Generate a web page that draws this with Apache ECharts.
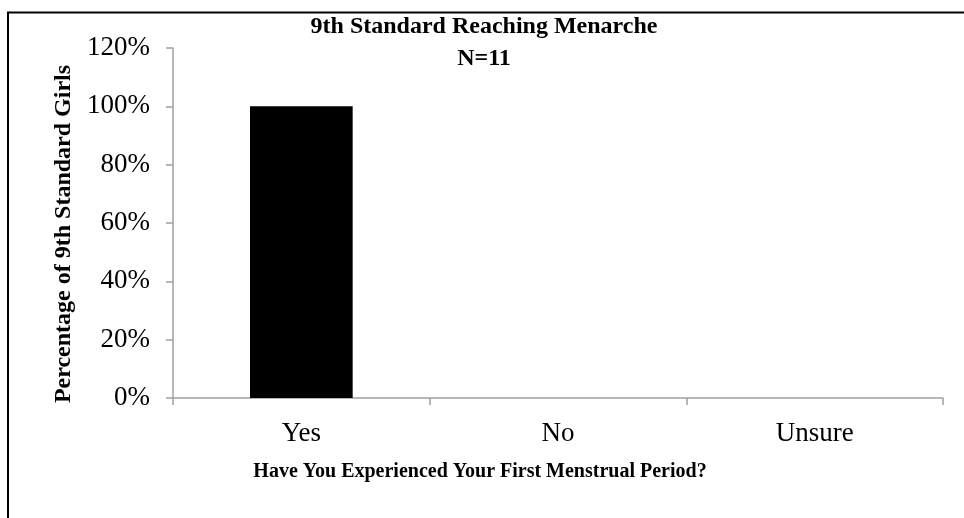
<!DOCTYPE html>
<html>
<head>
<meta charset="utf-8">
<script src="https://cdn.jsdelivr.net/npm/echarts@6/dist/echarts.min.js"></script>
<style>html,body{margin:0;padding:0;background:#fff;}#chart{width:964px;height:518px;}</style>
</head>
<body>
<div id="chart"></div>
<script>
const categories = ["Yes", "No", "Unsure"];
const percentValues = [100, 0, 0];
const yTicks = { min: 0, max: 120, interval: 20 };
const titleText = "9th Standard Reaching Menarche";
const subText = "N=11";
const xAxisName = "Have You Experienced Your First Menstrual Period?";
const yAxisName = "Percentage of 9th Standard Girls";

const serif = "'Liberation Serif', 'Times New Roman', serif";
const chart = echarts.init(document.getElementById('chart'));
chart.setOption({
  backgroundColor: '#fff',
  animation: false,
  title: {
    text: titleText + "\n" + subText,
    left: 479, top: 6, textAlign: 'center',
    textStyle: { fontFamily: serif, fontWeight: 'bold', fontSize: 24, color: '#000', lineHeight: 32 }
  },
  graphic: [{
    type: 'rect', z: 100,
    shape: { x: 8, y: 12.5, width: 1200, height: 1200 },
    style: { fill: 'none', stroke: '#000', lineWidth: 2 }
  }],
  grid: { left: 173, right: 21, top: 48, bottom: 120, containLabel: false },
  xAxis: {
    type: 'category', data: categories, boundaryGap: true,
    name: xAxisName, nameLocation: 'middle', nameGap: 64,
    nameTextStyle: { fontFamily: serif, fontWeight: 'bold', fontSize: 20, color: '#000', padding: [0, 156, 0, 0] },
    axisLine: { lineStyle: { color: '#a0a0a0', width: 1.5 } },
    axisTick: { show: true, alignWithLabel: false, length: 7, lineStyle: { color: '#a0a0a0', width: 1.5 } },
    axisLabel: { fontFamily: serif, fontSize: 27, color: '#000', margin: 22 },
    splitLine: { show: false }
  },
  yAxis: {
    type: 'value', min: yTicks.min, max: yTicks.max, interval: yTicks.interval,
    name: yAxisName, nameLocation: 'middle', nameGap: 95,
    nameTextStyle: { fontFamily: serif, fontWeight: 'bold', fontSize: 24, color: '#000', padding: [0, 22, 0, 0] },
    axisLine: { show: true, lineStyle: { color: '#a0a0a0', width: 1.5 } },
    axisTick: { show: true, length: 7, lineStyle: { color: '#a0a0a0', width: 1.5 } },
    axisLabel: { fontFamily: serif, fontSize: 27, color: '#000', margin: 23, formatter: '{value}%' },
    splitLine: { show: false }
  },
  series: [{
    type: 'bar', data: percentValues, barWidth: '40%',
    itemStyle: { color: '#000' }
  }]
});
</script>
</body>
</html>
